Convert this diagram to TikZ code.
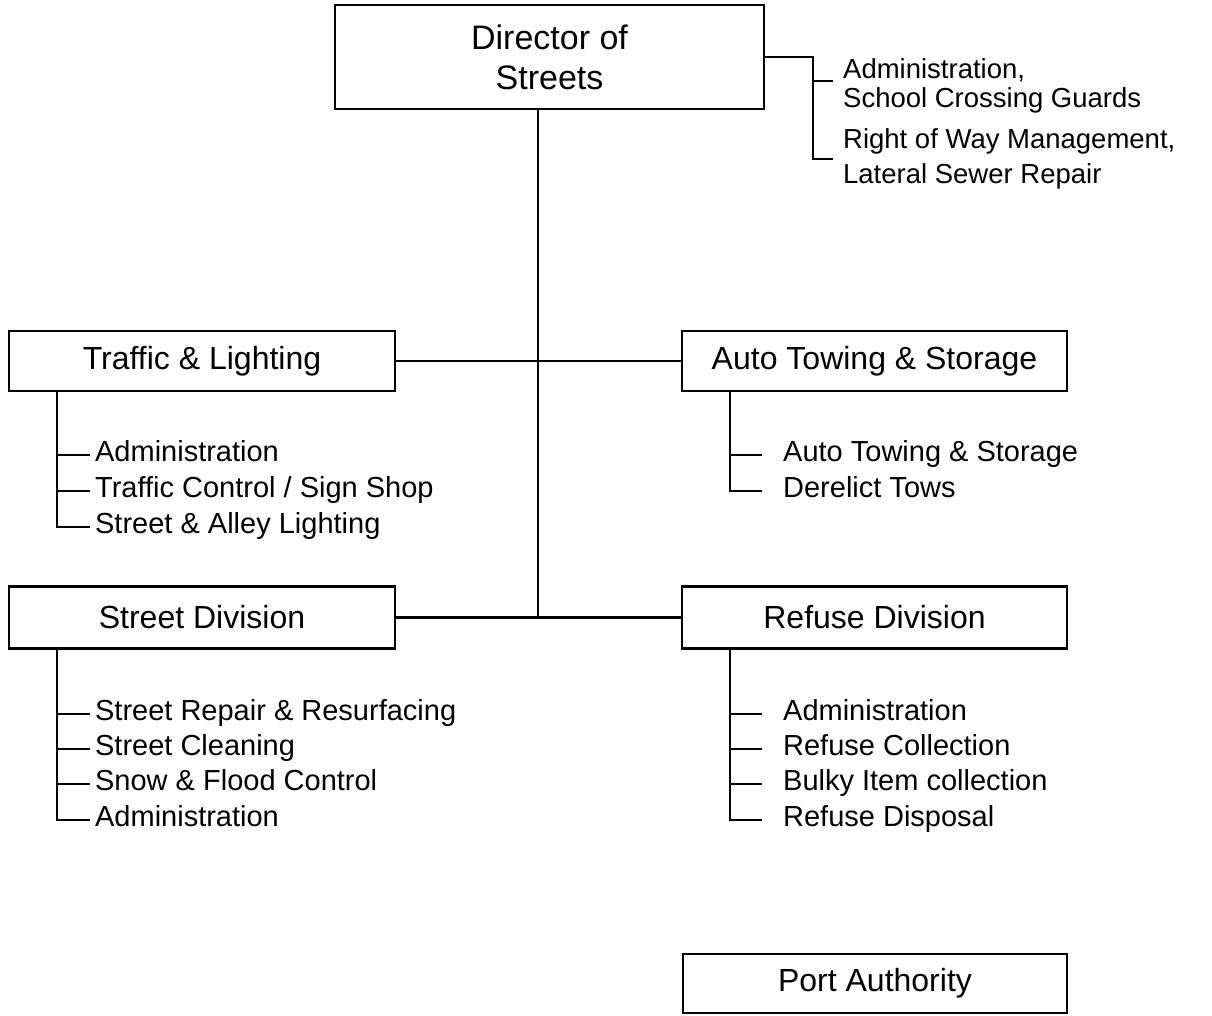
\documentclass[tikz,border=0pt]{standalone}
\usepackage{fontspec}
\setmainfont{Liberation Sans}
\begin{document}
\begin{tikzpicture}[x=1pt,y=-1pt, line width=2.3pt,
 box/.style={draw, line width=2.4pt, minimum height=60pt, inner sep=0pt, font=\fontsize{32}{38}\selectfont},
 subl/.style={anchor=west, inner xsep=4pt, inner ysep=0pt, text height=13pt, text depth=0pt, font=\fontsize{29}{34}\selectfont},
 subr/.style={anchor=west, inner xsep=20pt, inner ysep=0pt, text height=13pt, text depth=0pt, font=\fontsize{29}{34}\selectfont},
 note/.style={anchor=base west, inner sep=0pt, font=\fontsize{27.5}{33}\selectfont}]
\useasboundingbox (0,0) rectangle (1212,1015);

% boxes
\node[box, minimum width=429pt, minimum height=104pt, align=center, font=\fontsize{34}{40}\selectfont] (dir) at (549.5,57) {Director of\\Streets};
\node[box, minimum width=386pt] (traf) at (202,361) {Traffic \& Lighting};
\node[box, minimum width=385pt] (auto) at (874.5,361) {Auto Towing \& Storage};
\node[box, minimum width=386pt, minimum height=62pt] (strt) at (202,617.5) {Street Division};
\node[box, minimum width=385pt, minimum height=62pt] (ref) at (874.5,617.5) {Refuse Division};
\node[box, minimum width=384pt, minimum height=59pt] (port) at (875,983.5) {Port Authority};

% trunk
\coordinate (trunkbot) at (538,619);
\draw (dir.south -| trunkbot) -- (trunkbot);
\draw (traf.east) -- (auto.west);
\draw (strt.east) -- (ref.west);

% top-right bracket
\node[note] (n1a) at (842,78) {Administration,};
\node[note] (n1b) at (842,107) {School Crossing Guards};
\node[note] (n2a) at (842,148) {Right of Way Management,};
\node[note] (n2b) at (842,183) {Lateral Sewer Repair};
\coordinate (bk) at (813,57);
\coordinate (bkbot) at (813,159);
\coordinate (tk1) at (833,81);
\coordinate (tk2) at (833,159);
\draw (dir.east) -- (bk) -- (bkbot) -- (tk2);
\draw (bk |- tk1) -- (tk1);

% traffic subs
\node[subl] (t1) at (90,455) {Administration};
\node[subl] (t2) at (90,491) {Traffic Control / Sign Shop};
\node[subl] (t3) at (90,527) {Street \& Alley Lighting};
\coordinate (tv) at ([xshift=49pt]traf.south west);
\draw (tv) -- (tv |- t3.west) -- (t3.west);
\draw (tv |- t1.west) -- (t1.west);
\draw (tv |- t2.west) -- (t2.west);

% auto subs
\node[subr] (a1) at (762,455) {Auto Towing \& Storage};
\node[subr] (a2) at (762,491) {Derelict Tows};
\coordinate (av) at ([xshift=49pt]auto.south west);
\draw (av) -- (av |- a2.west) -- (a2.west);
\draw (av |- a1.west) -- (a1.west);

% street subs
\node[subl] (s1) at (90,714) {Street Repair \& Resurfacing};
\node[subl] (s2) at (90,749) {Street Cleaning};
\node[subl] (s3) at (90,784) {Snow \& Flood Control};
\node[subl] (s4) at (90,820) {Administration};
\coordinate (sv) at ([xshift=49pt]strt.south west);
\draw (sv) -- (sv |- s4.west) -- (s4.west);
\draw (sv |- s1.west) -- (s1.west);
\draw (sv |- s2.west) -- (s2.west);
\draw (sv |- s3.west) -- (s3.west);

% refuse subs
\node[subr] (r1) at (762,714) {Administration};
\node[subr] (r2) at (762,749) {Refuse Collection};
\node[subr] (r3) at (762,784) {Bulky Item collection};
\node[subr] (r4) at (762,820) {Refuse Disposal};
\coordinate (rv) at ([xshift=49pt]ref.south west);
\draw (rv) -- (rv |- r4.west) -- (r4.west);
\draw (rv |- r1.west) -- (r1.west);
\draw (rv |- r2.west) -- (r2.west);
\draw (rv |- r3.west) -- (r3.west);
\end{tikzpicture}
\end{document}
